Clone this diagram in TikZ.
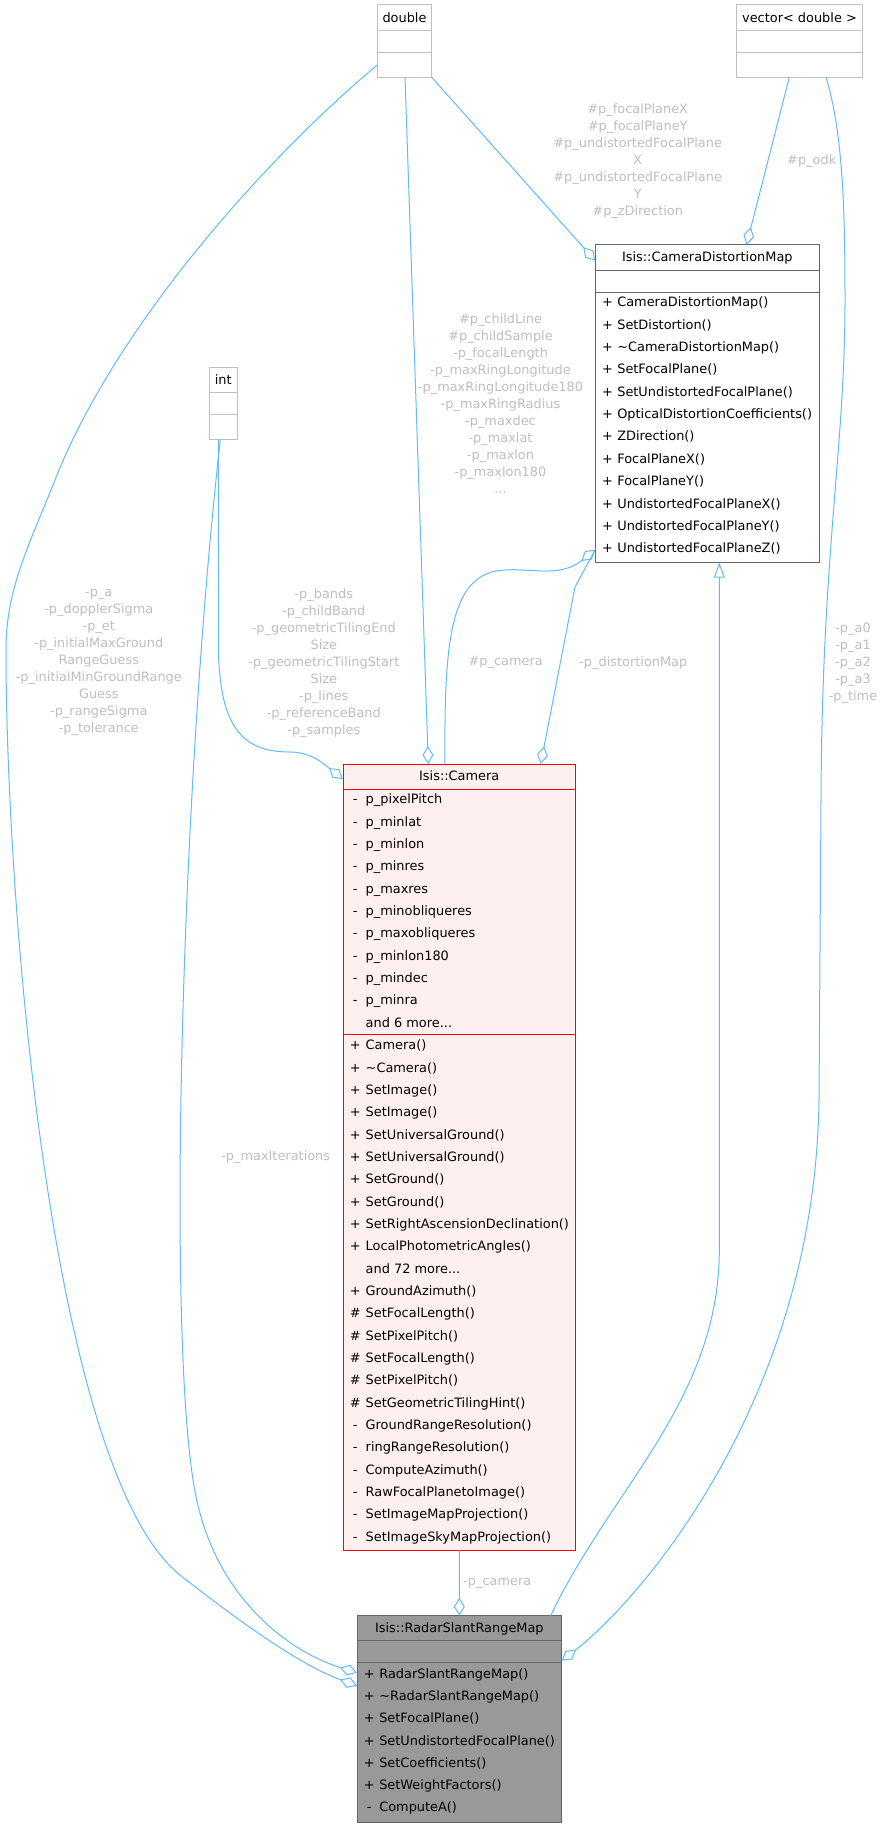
\documentclass[tikz,border=0pt]{standalone}
\usepackage{fontspec}
\setmainfont{DejaVu Sans}
\usetikzlibrary{arrows.meta,calc}
\definecolor{edgeblue}{HTML}{63B8FF}
\definecolor{lblgrey}{HTML}{BEBEBE}
\definecolor{boxgrey}{HTML}{BFBFBF}
\definecolor{darkborder}{HTML}{666666}
\definecolor{camfill}{HTML}{FFF0F0}
\definecolor{curfill}{HTML}{999999}
\newcommand{\dfont}{\fontsize{12.9pt}{17pt}\selectfont}
\begin{document}
\begin{tikzpicture}[x=1pt,y=-1pt,font=\dfont,
  box/.style={draw,line width=1pt,inner sep=0pt,outer sep=0pt},
  txt/.style={inner sep=0pt,outer sep=0pt,anchor=base west},
  sym/.style={inner sep=0pt,outer sep=0pt,anchor=base},
  ttl/.style={inner sep=0pt,outer sep=0pt,anchor=base},
  lbl/.style={text=lblgrey,align=center,inner sep=0pt},
  agg/.style={draw=edgeblue,line width=1pt,-{Diamond[open,length=18pt,width=11pt]}},
  inh/.style={draw=edgeblue,line width=1pt,-{Triangle[open,length=15pt,width=11pt]}}]
\useasboundingbox (0,0) rectangle (884,1827);

% ---------- boxes ----------
\node[box,draw=boxgrey,fill=white,minimum width=54.4pt,minimum height=72.3pt] (dbl) at (404.5,41.15) {};
\draw[boxgrey,line width=1pt] (dbl.west |- 0,30.7) -- (dbl.east |- 0,30.7) (dbl.west |- 0,52.7) -- (dbl.east |- 0,52.7);
\node[ttl] (dblt) at (404.5,22.3) {double};

\node[box,draw=boxgrey,fill=white,minimum width=125.6pt,minimum height=72.3pt] (vec) at (799.5,41.15) {};
\draw[boxgrey,line width=1pt] (vec.west |- 0,30.7) -- (vec.east |- 0,30.7) (vec.west |- 0,52.7) -- (vec.east |- 0,52.7);
\node[ttl] (vect) at (799.5,22.3) {vector< double >};

\node[box,draw=boxgrey,fill=white,minimum width=28pt,minimum height=72.4pt] (int) at (223.3,403.5) {};
\draw[boxgrey,line width=1pt] (int.west |- 0,392.3) -- (int.east |- 0,392.3) (int.west |- 0,414.3) -- (int.east |- 0,414.3);
\node[ttl] (intt) at (223.3,384.3) {int};

\node[box,draw=darkborder,fill=white,minimum width=224pt,minimum height=318pt] (cdm) at (707.3,403.7) {};
\draw[darkborder,line width=1pt] (cdm.west |- 0,270) -- (cdm.east |- 0,270) (cdm.west |- 0,292) -- (cdm.east |- 0,292);
\node[ttl] (cdmt) at (707.3,261.8) {Isis::CameraDistortionMap};
\foreach \tx [count=\i from 0] in {CameraDistortionMap(),SetDistortion(),\textasciitilde CameraDistortionMap(),SetFocalPlane(),SetUndistortedFocalPlane(),OpticalDistortionCoefficients(),ZDirection(),FocalPlaneX(),FocalPlaneY(),UndistortedFocalPlaneX(),UndistortedFocalPlaneY(),UndistortedFocalPlaneZ()}{
  \node[sym] (cdms\i) at (607.6,306.8+22.36*\i) {+};
  \node[txt] (cdmm\i) at (617.3,306.8+22.36*\i) {\tx};
}

\node[box,draw=red,fill=camfill,minimum width=232.5pt,minimum height=786pt] (cam) at (459.25,1157) {};
\draw[red,line width=1pt] (cam.west |- 0,789) -- (cam.east |- 0,789) (cam.west |- 0,1034.3) -- (cam.east |- 0,1034.3);
\node[ttl] (camt) at (459.25,780.8) {Isis::Camera};
\foreach \tx [count=\i from 0] in {p\_pixelPitch,p\_minlat,p\_minlon,p\_minres,p\_maxres,p\_minobliqueres,p\_maxobliqueres,p\_minlon180,p\_mindec,p\_minra}{
  \node[sym] (caas\i) at (355.3,803.8+22.35*\i) {-};
  \node[txt] (caam\i) at (365.7,803.8+22.35*\i) {\tx};
}
\node[txt] (caamore) at (365.7,803.8+22.35*10) {and 6 more...};
\foreach \sy/\tx [count=\i from 0] in {+/Camera(),+/\textasciitilde Camera(),+/SetImage(),+/SetImage(),+/SetUniversalGround(),+/SetUniversalGround(),+/SetGround(),+/SetGround(),+/SetRightAscensionDeclination(),+/LocalPhotometricAngles()}{
  \node[sym] (cams\i) at (355.3,1049.9+22.33*\i) {\sy};
  \node[txt] (camm\i) at (365.7,1049.9+22.33*\i) {\tx};
}
\node[txt] (cammore) at (365.7,1049.9+22.33*10) {and 72 more...};
\foreach \sy/\tx [count=\i from 11] in {+/GroundAzimuth(),\#/SetFocalLength(),\#/SetPixelPitch(),\#/SetFocalLength(),\#/SetPixelPitch(),\#/SetGeometricTilingHint(),-/GroundRangeResolution(),-/ringRangeResolution(),-/ComputeAzimuth(),-/RawFocalPlanetoImage(),-/SetImageMapProjection(),-/SetImageSkyMapProjection()}{
  \node[sym] (cams\i) at (355.3,1049.9+22.33*\i) {\sy};
  \node[txt] (camm\i) at (365.7,1049.9+22.33*\i) {\tx};
}

\node[box,draw=darkborder,fill=curfill,minimum width=204.7pt,minimum height=206.3pt] (rsm) at (459.35,1718.85) {};
\draw[darkborder,line width=1pt] (rsm.west |- 0,1640.3) -- (rsm.east |- 0,1640.3) (rsm.west |- 0,1662.7) -- (rsm.east |- 0,1662.7);
\node[ttl] (rsmt) at (459.35,1632.5) {Isis::RadarSlantRangeMap};
\foreach \sy/\tx [count=\i from 0] in {+/RadarSlantRangeMap(),+/\textasciitilde RadarSlantRangeMap(),+/SetFocalPlane(),+/SetUndistortedFocalPlane(),+/SetCoefficients(),+/SetWeightFactors(),-/ComputeA()}{
  \node[sym] (rsms\i) at (369.3,1678.2+22.27*\i) {\sy};
  \node[txt] (rsmm\i) at (379.3,1678.2+22.27*\i) {\tx};
}

% ---------- connectors ----------
\draw[agg] (dbl.south east) -- ($(cdm.north west)+(0,16)$);
\draw[agg] ($(vec.south west)+(52.6,0)$) -- ($(cdm.north west)+(151.2,0)$);
\draw[agg] ($(vec.south)+(26.5,0)$) .. controls (842,130) and (845,200) .. (845,300)
  .. controls (845,450) and (822,550) .. (821,800) -- (819,1100)
  .. controls (815,1400) and (640,1600) .. ($(rsm.north east)+(0,45)$);
\draw[agg] ($(dbl.south)+(0.5,0)$) -- ($(cam.north west)+(85.3,0)$);
\draw[agg] ($(cam.north west)+(102,0)$) .. controls (444,640) and (450,572) .. (505,570)
  .. controls (530,568) and (560,578) .. ($(cdm.south west)+(0,-13)$);
\draw[agg] ($(cdm.south west)+(0,-13)$) -- (575,587) -- ($(cam.north west)+(197.7,0)$);
\draw[agg] ($(int.south)+(-5,0)$) -- (218.3,640) .. controls (218.3,725) and (240,752) .. (290,752)
  .. controls (312,752) and (325,765) .. ($(cam.north west)+(0,15)$);
\draw[agg] ($(int.south)+(-3,0)$) .. controls (180,800) and (166,1360) .. (196.7,1500)
  .. controls (218.7,1600) and (290,1652) .. ($(rsm.north west)+(0,57)$);
\draw[agg] ($(dbl.north west)+(0,60)$) .. controls (275,150) and (118,320) .. (55,480)
  .. controls (27,550) and (6,590) .. (6,650)
  .. controls (6,900) and (50,1470) .. (180,1575)
  .. controls (240,1622) and (300,1665) .. ($(rsm.north west)+(0,70)$);
\draw[agg] (cam.south) -- (rsm.north);
\draw[inh] ($(rsm.north east)+(-11,0)$) .. controls (610,1490) and (719.3,1400) .. (719.3,1250) -- ($(cdm.south west)+(124,0)$);

% ---------- labels ----------
\node[lbl] (l1) at (637.7,160.8) {\#p\_focalPlaneX\\\#p\_focalPlaneY\\\#p\_undistortedFocalPlane\\X\\\#p\_undistortedFocalPlane\\Y\\\#p\_zDirection};
\node[lbl] (l2) at (811.7,161) {\#p\_odk};
\node[lbl] (l3) at (500.5,403.8) {\#p\_childLine\\\#p\_childSample\\-p\_focalLength\\-p\_maxRingLongitude\\-p\_maxRingLongitude180\\-p\_maxRingRadius\\-p\_maxdec\\-p\_maxlat\\-p\_maxlon\\-p\_maxlon180\\...};
\node[lbl] (l4) at (98.8,662.7) {-p\_a\\-p\_dopplerSigma\\-p\_et\\-p\_initialMaxGround\\RangeGuess\\-p\_initialMinGroundRange\\Guess\\-p\_rangeSigma\\-p\_tolerance};
\node[lbl] (l5) at (323.8,662.7) {-p\_bands\\-p\_childBand\\-p\_geometricTilingEnd\\Size\\-p\_geometricTilingStart\\Size\\-p\_lines\\-p\_referenceBand\\-p\_samples};
\node[lbl] (l6) at (505.7,662.7) {\#p\_camera};
\node[lbl] (l7) at (633.3,662.7) {-p\_distortionMap};
\node[lbl] (l8) at (853,662.8) {-p\_a0\\-p\_a1\\-p\_a2\\-p\_a3\\-p\_time};
\node[lbl] (l9) at (275.7,1156.7) {-p\_maxIterations};
\node[lbl] (l10) at (497.2,1583) {-p\_camera};
\end{tikzpicture}
\end{document}
